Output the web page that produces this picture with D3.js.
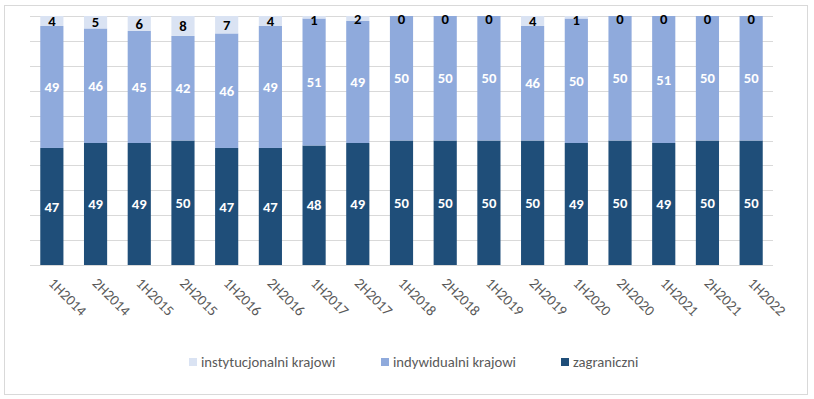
<!DOCTYPE html>
<html><head><meta charset="utf-8">
<script src="https://cdn.jsdelivr.net/npm/d3@7"></script>
<style>
html,body{margin:0;padding:0;background:#fff;}
svg{display:block;font-family:Carlito,Calibri,"Liberation Sans",Arial,sans-serif;}
</style></head>
<body>
<svg id="chart" width="814" height="399"></svg>
<script>
const categories = ["1H2014","2H2014","1H2015","2H2015","1H2016","2H2016","1H2017","2H2017","1H2018","2H2018","1H2019","2H2019","1H2020","2H2020","1H2021","2H2021","1H2022"];
const zagraniczni = [47,49,49,50,47,47,48,49,50,50,50,50,49,50,49,50,50];
const indywidualni = [49,46,45,42,46,49,51,49,50,50,50,46,50,50,51,50,50];
const instytucjonalni = [4,5,6,8,7,4,1,2,0,0,0,4,1,0,0,0,0];
const seriesNames = ["zagraniczni","indywidualni krajowi","instytucjonalni krajowi"];
const seriesColors = ["#1F4E79","#8FAADC","#DAE3F3"];
const labelColors = ["#ffffff","#ffffff","#000000"];
const yTicks = [0,10,20,30,40,50,60,70,80,90,100];

const svg = d3.select("#chart");
svg.append("rect").attr("x",4.5).attr("y",5.5).attr("width",803).attr("height",389)
  .attr("fill","#fff").attr("stroke","#d9d9d9");

const x = d3.scaleBand().domain(categories).range([30,773]).paddingInner(0.47).paddingOuter(0.235);
const y = d3.scaleLinear().domain([0,100]).range([265,16]);

svg.append("g").selectAll("line").data(yTicks).join("line")
  .attr("x1",30).attr("x2",773)
  .attr("y1",d=>Math.round(y(d))+0.5).attr("y2",d=>Math.round(y(d))+0.5)
  .attr("stroke","#d9d9d9").attr("stroke-width",1);

const rows = categories.map((c,i)=>({cat:c, zagraniczni:zagraniczni[i], indywidualni:indywidualni[i], instytucjonalni:instytucjonalni[i]}));
const keys = ["zagraniczni","indywidualni","instytucjonalni"];
const stacked = d3.stack().keys(keys)(rows);

const g = svg.append("g");
stacked.forEach((s,si)=>{
  g.append("g").selectAll("rect").data(s).join("rect")
    .attr("x",d=>x(d.data.cat)).attr("width",x.bandwidth())
    .attr("y",d=>y(d[1])).attr("height",d=>y(d[0])-y(d[1]))
    .attr("fill",seriesColors[si]);
});
stacked.forEach((s,si)=>{
  g.append("g").selectAll("text").data(s).join("text")
    .attr("x",d=>x(d.data.cat)+x.bandwidth()/2)
    .attr("y",d=>(y(d[0])+y(d[1]))/2 + (si===2 && d[1]-d[0]<2 ? 3 : 0))
    .attr("dy","0.35em")
    .attr("text-anchor","middle")
    .attr("font-size","14.67px").attr("font-weight","bold")
    .attr("fill",labelColors[si])
    .text(d=>d[1]-d[0]);
});

// x axis labels
svg.append("g").selectAll("text").data(categories).join("text")
  .attr("transform",d=>`translate(${x(d)+x.bandwidth()/2-4},${284}) rotate(45)`)
  .attr("text-anchor","start")
  .attr("font-size","14.67px").attr("fill","#595959")
  .text(d=>d);

// legend
const legendItems = [
  {name:seriesNames[2], color:seriesColors[2], x:189},
  {name:seriesNames[1], color:seriesColors[1], x:381},
  {name:seriesNames[0], color:seriesColors[0], x:561}
];
const lg = svg.append("g");
legendItems.forEach(it=>{
  lg.append("rect").attr("x",it.x).attr("y",358).attr("width",8).attr("height",8).attr("fill",it.color);
  lg.append("text").attr("x",it.x+12).attr("y",362).attr("dy","0.35em")
    .attr("font-size","14.67px").attr("fill","#595959").text(it.name);
});
</script>
</body></html>
